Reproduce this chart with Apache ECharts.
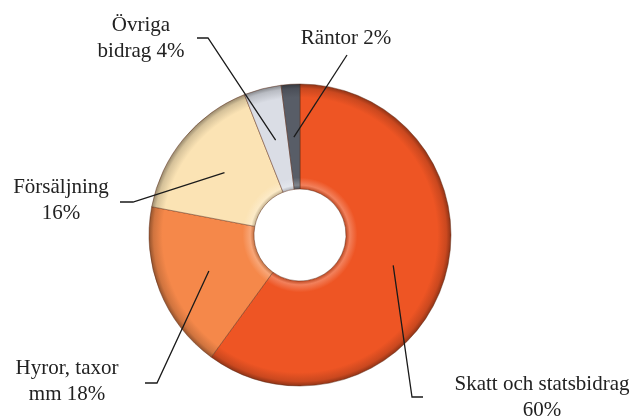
<!DOCTYPE html>
<html>
<head>
<meta charset="utf-8">
<script src="https://cdn.jsdelivr.net/npm/echarts@6/dist/echarts.min.js"></script>
<style>
  html, body { margin: 0; padding: 0; background: #fff; }
  #chart { width: 641px; height: 418px; }
</style>
</head>
<body>
<div id="chart"></div>
<script>
// intäkter, andel i procent (medsols från kl 12)
var categories = ['Skatt och statsbidrag', 'Hyror, taxor mm', 'Försäljning', 'Övriga bidrag', 'Räntor'];
var values = [60, 18, 16, 4, 2];
var labelTexts = ['Skatt och statsbidrag\n60%', 'Hyror, taxor\nmm 18%', 'Försäljning\n16%', 'Övriga\nbidrag 4%', 'Räntor 2%'];

var colors = ['#ee5524', '#f5884a', '#fbe3b4', '#dadde5', '#585d67'];

// where each label sits and how its leader line bends (px)
var labelPlace = [
  { pos: [542, 397], elbow: [412, 397], end: [423, 397] },
  { pos: [67, 381],  elbow: [157, 383], end: [145, 383] },
  { pos: [61, 200],  elbow: [133, 202], end: [120, 202] },
  { pos: [141, 38],  elbow: [208, 38],  end: [197, 38] },
  { pos: [346, 38],  elbow: [347, 55],  end: null }
];

var cx = 300, cy = 235, rIn = 46, rOut = 151;

function mix(hex, to, t) {
  var a = parseInt(hex.slice(1), 16), b = parseInt(to.slice(1), 16);
  var r = Math.round(((a >> 16) & 255) * (1 - t) + ((b >> 16) & 255) * t);
  var g = Math.round(((a >> 8) & 255) * (1 - t) + ((b >> 8) & 255) * t);
  var bl = Math.round((a & 255) * (1 - t) + (b & 255) * t);
  return 'rgb(' + r + ',' + g + ',' + bl + ')';
}

// fake bevel: light near the hole, dark at the rim
function ringColor(c) {
  return {
    type: 'radial', x: cx, y: cy, r: rOut, global: true,
    colorStops: [
      { offset: 0.30, color: mix(c, '#000000', 0.25) },
      { offset: 0.33, color: mix(c, '#ffffff', 0.25) },
      { offset: 0.38, color: c },
      { offset: 0.91, color: c },
      { offset: 0.97, color: mix(c, '#000000', 0.15) },
      { offset: 1, color: mix(c, '#000000', 0.4) }
    ]
  };
}

var chart = echarts.init(document.getElementById('chart'));

var option = {
  animation: false,
  series: [
    {
      type: 'pie',
      z: 2,
      center: [cx, cy],
      radius: [rIn, rOut],
      startAngle: 90,
      clockwise: true,
      silent: true,
      label: { show: false },
      labelLine: { show: false },
      itemStyle: { borderColor: 'rgba(90,40,20,0.45)', borderWidth: 1 },
      data: categories.map(function (n, i) {
        return { name: n, value: values[i], itemStyle: { color: ringColor(colors[i]) } };
      })
    },
    {
      // invisible inner pie, only used to anchor the labels mid-ring
      type: 'pie',
      z: 5,
      center: [cx, cy],
      radius: [0, 98],
      startAngle: 90,
      clockwise: true,
      silent: true,
      avoidLabelOverlap: false,
      itemStyle: { color: 'rgba(0,0,0,0)' },
      label: {
        show: true,
        position: 'outside',
        formatter: function (p) { return labelTexts[p.dataIndex]; },
        fontFamily: 'Liberation Serif',
        fontSize: 21,
        lineHeight: 26,
        color: '#222',
        align: 'center'
      },
      labelLine: { show: true, length: 10, length2: 10, lineStyle: { color: '#1a1a1a', width: 1.3 } },
      labelLayout: function (p) {
        var s = labelPlace[p.dataIndex];
        var pts = [p.labelLinePoints[0], s.elbow];
        if (s.end) pts.push(s.end);
        return { x: s.pos[0], y: s.pos[1], align: 'center', verticalAlign: 'middle', labelLinePoints: pts };
      },
      data: categories.map(function (n, i) {
        return { name: n, value: values[i] };
      })
    }
  ]
};

chart.setOption(option);
</script>
</body>
</html>
